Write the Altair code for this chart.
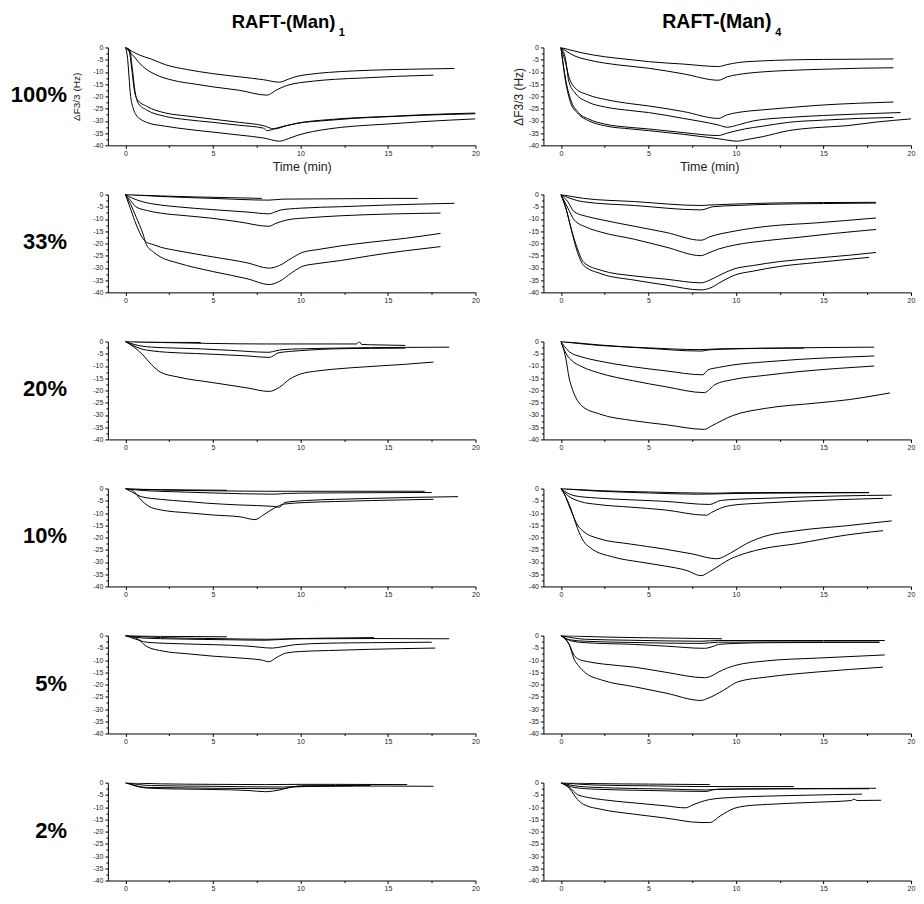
import altair as alt
import pandas as pd

ROW_LABELS = ["100%", "33%", "20%", "10%", "5%", "2%"]
COL_SUBS = ["1", "4"]
X_TICKS = [0, 2.5, 5, 7.5, 10, 12.5, 15, 17.5, 20]
Y_TICKS = [0, -2.5, -5, -7.5, -10, -12.5, -15, -17.5, -20, -22.5, -25, -27.5,
           -30, -32.5, -35, -37.5, -40]

# ---- RAFT-(Man)1 ----
m1_100 = {
    "a": ([0, 0.8, 1.5, 2.3, 3.5, 5, 6.5, 7.9, 8.8, 9.3, 9.8, 10.5, 11.6, 13, 15, 17, 18.8],
          [0, -3.1, -4.8, -7.1, -9, -10.7, -12, -13.2, -14.2, -13, -11.8, -11, -10.2, -9.6, -9.1, -8.8, -8.6]),
    "b": ([0, 0.4, 1, 1.7, 2.7, 4, 5, 6.5, 8.1, 8.6, 9.2, 10.7, 12, 13.5, 15.5, 17.6],
          [0, -3, -7.8, -11, -13.4, -15, -16.1, -17.5, -19.5, -17.5, -15.6, -13.8, -13, -12.5, -11.8, -11.3]),
    "c": ([0, 0.2, 0.35, 0.5, 0.7, 1.2, 2.3, 3.5, 5, 6.5, 7.9, 8.5, 9.2, 9.8, 11.6, 13, 15, 17, 20],
          [0, -1, -8, -17, -21.5, -24, -26.8, -28, -29.3, -30.6, -32, -33.3, -32, -31, -29.5, -28.8, -28.2, -27.5, -26.8]),
    "d": ([0, 0.25, 0.4, 0.55, 0.75, 1.2, 2.3, 3.5, 5, 6.5, 7.9, 8.1, 8.6, 9.8, 11.6, 13, 15, 17, 20],
          [0, -1, -9, -18, -23, -25.5, -28.2, -29.5, -30.6, -31.8, -33, -34, -33, -31, -29.8, -29, -28.3, -27.7, -27.1]),
    "e": ([0, 0.1, 0.3, 0.45, 0.6, 0.9, 1.2, 2.3, 3.5, 5, 6.5, 7.9, 8.8, 9.3, 9.8, 11.6, 13, 15, 17, 20],
          [0, -3, -20, -25, -27.5, -29.5, -30.6, -32.2, -33.4, -34.6, -35.8, -37, -38.3, -37.3, -36, -33.3, -32.2, -31.3, -30.3, -29.2]),
}
m1_33 = {
    "a1": ([0, 2, 4, 6, 7.8], [0, -0.6, -1, -1.3, -1.6]),
    "a2": ([0, 2, 5, 8.2, 9, 11, 13, 15, 16.7], [0, -0.8, -1.6, -2.3, -1.9, -1.8, -1.7, -1.6, -1.6]),
    "b": ([0, 0.4, 1, 2, 2.9, 5, 7, 8.2, 8.6, 8.9, 10, 12.3, 15, 17, 18.8],
          [0, -1.5, -3, -4.3, -5, -6.2, -7.2, -7.9, -7, -6.3, -5.6, -5, -4.3, -3.9, -3.6]),
    "c": ([0, 0.3, 0.6, 1.2, 2, 3.5, 4.8, 6.5, 8.2, 8.6, 9.3, 10.5, 12.3, 15, 18],
          [0, -2.5, -5, -6.5, -7.6, -8.7, -9.6, -11.2, -13, -11.8, -10.3, -9.5, -8.7, -8, -7.6]),
    "d": ([0, 0.3, 0.6, 1, 1.2, 1.6, 2, 3, 5, 7, 8.2, 8.8, 9.5, 10.1, 11, 12.3, 14, 16, 18],
          [0, -6, -12, -18, -19.5, -20.5, -21.5, -23, -25.5, -28, -30.1, -29, -26, -23.7, -22.5, -21, -19.5, -17.9, -15.9]),
    "e": ([0, 0.3, 0.6, 1, 1.2, 1.6, 2, 3, 5, 7, 8.2, 8.8, 9.5, 10.1, 11, 12.3, 14, 16, 18],
          [0, -4, -9, -16, -20.5, -23.5, -25.5, -28, -31.5, -34.5, -36.8, -35.5, -32, -29.4, -28.2, -27, -25, -23, -21.3]),
}
m1_20 = {
    "a1": ([0, 1, 2.5, 4.3], [0, -0.2, -0.3, -0.4]),
    "a2": ([0, 2, 5, 8, 10, 12, 13.2, 13.35, 13.5, 14.5, 16], [0, -0.4, -0.8, -1, -1, -1, -1, 0, -1.2, -1.4, -1.6]),
    "b": ([0, 0.5, 1.5, 3, 4.3, 6, 8.2, 8.6, 9, 10, 12, 14, 16, 18.5],
          [0, -1.2, -2.3, -2.7, -3, -3.6, -4.4, -3.8, -3.3, -3, -2.7, -2.5, -2.4, -2.3]),
    "c": ([0, 0.4, 0.9, 1.5, 2.4, 4, 5.3, 7, 8.2, 8.5, 8.7, 9.5, 10.5, 11.9, 14, 16],
          [0, -1.5, -3, -3.8, -4.4, -4.9, -5.3, -5.9, -6.5, -5.6, -4.7, -4, -3.5, -3, -2.8, -2.7]),
    "d": ([0, 0.5, 1, 1.5, 2, 3, 5, 7, 8.2, 8.8, 9.4, 10, 11, 11.9, 13.8, 16, 17.6],
          [0, -2.3, -5.5, -9.5, -12.5, -14.5, -16.8, -19, -20.4, -18.7, -15.3, -13.3, -12, -11.3, -10.3, -9.3, -8.4]),
}
m1_10 = {
    "a1": ([0, 1, 3, 5.8], [0, -0.3, -0.5, -0.7]),
    "a2": ([0, 2, 5, 8, 10, 13, 17.1], [0, -0.6, -0.9, -1.1, -1.1, -1.1, -1.1]),
    "b": ([0, 1, 2.8, 5, 8.5, 9.2, 11, 14, 17.5], [0, -0.8, -1.3, -1.8, -2.3, -2, -1.8, -1.7, -1.6]),
    "c": ([0, 0.4, 0.9, 2, 3.5, 4.7, 6.5, 8.5, 8.8, 9.1, 10.3, 12, 14.1, 16.5, 19],
          [0, -1.5, -3.3, -4.4, -5.3, -6, -6.7, -7.3, -7.6, -5.7, -4.9, -4.4, -4, -3.6, -3.3]),
    "d": ([0, 0.4, 0.9, 1.3, 2, 3.7, 5, 6.6, 7.4, 7.9, 8.5, 9.1, 10.3, 12, 14.1, 16, 17.6],
          [0, -0.7, -4.7, -7.1, -8.7, -10, -10.8, -11.6, -12.7, -10.7, -8, -6.3, -5.7, -5.3, -4.9, -4.6, -4.4]),
}
m1_5 = {
    "a1": ([0, 2, 4, 5.8], [0, -0.3, -0.4, -0.5]),
    "a2": ([0, 2, 5, 8, 10, 14, 18.5], [0, -0.8, -1.2, -1.5, -1.3, -1.2, -1.3]),
    "b": ([0, 1, 3, 5.9, 8, 9.5, 12, 14.2], [0, -1, -1.4, -1.7, -1.9, -1.3, -1, -0.8]),
    "c": ([0, 0.6, 1.2, 2.5, 5, 7, 8.4, 9, 9.7, 11.6, 14, 17.5],
          [0, -1.5, -2.7, -3.2, -3.7, -4.3, -5.1, -4.5, -3.7, -3.1, -2.9, -2.7]),
    "d": ([0, 0.7, 1.2, 2.2, 3.5, 5, 7, 7.8, 8.2, 8.6, 9.2, 10, 11.6, 14, 17.7],
          [0, -1.3, -4.4, -6.4, -7.4, -8.4, -9.4, -10, -10.7, -9.1, -7.1, -6.5, -6.1, -5.6, -5.1]),
}
m1_2 = {
    "a": ([0, 2, 5, 8, 10, 12, 16.1], [0, -0.5, -0.7, -0.8, -0.7, -0.7, -0.8]),
    "b": ([0, 1.5, 5, 9, 10, 12, 15, 17.6], [0, -1.2, -1.5, -1.8, -1.5, -1.4, -1.4, -1.5]),
    "c": ([0, 1.3, 3, 5, 7, 9, 9.5, 10, 12, 14], [0, -2, -2.1, -2.3, -2.4, -2.5, -1.8, -1.3, -1.2, -1.2]),
    "d": ([0, 1.2, 3, 5, 7, 8, 8.8, 9.5, 11, 13], [0, -2.2, -2.6, -2.8, -3.2, -3.7, -3, -1.8, -1.5, -1.3]),
}

# ---- RAFT-(Man)4 ----
m4_100 = {
    "a": ([0, 0.5, 1.2, 2.5, 4, 5, 7, 9, 9.5, 10.1, 11.5, 13, 15, 17, 19],
          [0, -1, -2.2, -3.8, -5, -5.8, -6.8, -7.8, -7, -6.2, -5.5, -5.1, -4.9, -4.8, -4.7]),
    "b": ([0, 0.3, 0.8, 1.5, 2.5, 4, 5, 7, 9, 9.5, 10.1, 11.5, 13, 15, 17, 19],
          [0, -1.5, -3.5, -5, -6.4, -7.7, -8.5, -10.8, -13.4, -12, -11.1, -10, -9.4, -8.9, -8.5, -8.3]),
    "c": ([0, 0.27, 0.45, 0.8, 1.6, 2.5, 4, 5, 7, 9, 9.5, 10.1, 11.5, 13, 15, 17, 19],
          [0, -6.4, -11.8, -16.5, -19.5, -21.2, -23, -23.9, -26.2, -29, -27.5, -26.6, -25.5, -24.6, -23.5, -22.8, -22.3]),
    "d": ([0, 0.27, 0.45, 0.8, 1.6, 2.5, 4, 5, 7, 9, 9.5, 10.2, 11, 13, 15, 17, 19.4],
          [0, -5, -13.8, -18.5, -22.5, -24.3, -25.8, -26.6, -29, -31.7, -32.6, -31.5, -30, -28.6, -27.8, -27.2, -26.6]),
    "e": ([0, 0.27, 0.55, 1, 1.6, 2.5, 4, 5, 7, 9, 9.5, 10.5, 11.5, 13, 15, 17, 19],
          [0, -13, -21.2, -26.6, -29.3, -31.3, -32.7, -33.3, -34.8, -36, -35, -33.3, -32.2, -30.6, -29.7, -29, -28.6]),
    "f": ([0, 0.27, 0.55, 1, 1.6, 2.5, 4, 5, 7, 9, 10.1, 10.5, 11.5, 13, 14.5, 16.3, 18, 20],
          [0, -14, -22.5, -27.2, -30, -32, -33.3, -34, -35.5, -37.3, -38.3, -37.8, -36.5, -34, -32.8, -32, -30.5, -29.2]),
}
m4_33 = {
    "a1": ([0, 1.3, 4.2, 8, 8.5, 10, 12, 15, 18], [0, -1.6, -2.9, -4.5, -4.3, -3.9, -3.5, -3.3, -3.2]),
    "a2": ([0, 0.5, 1.3, 4.2, 8, 8.7, 10, 12, 15, 18], [0, -1.5, -3, -4.5, -6.3, -5, -4.5, -4, -3.7, -3.5]),
    "b": ([0, 0.4, 0.75, 1.5, 2.3, 4.2, 6, 8, 8.5, 9.9, 11.8, 14.6, 18],
          [0, -3, -7, -9, -10.3, -13, -15.5, -18.7, -17.3, -15, -13, -11.6, -9.6]),
    "c": ([0, 0.4, 0.75, 1.5, 2.3, 4.2, 6, 8, 8.4, 9, 9.9, 11.8, 13.6, 15.5, 18],
          [0, -5.6, -10.3, -13.5, -15.4, -18.3, -21.5, -25, -24, -22.3, -20.7, -18.8, -17.5, -16, -14.3]),
    "d": ([0, 0.3, 0.6, 0.95, 1.3, 2.3, 4.2, 6, 8, 8.5, 9.2, 9.9, 11, 12.5, 14.6, 16.5, 18],
          [0, -6, -14.3, -22.3, -27.7, -31, -33.3, -34.6, -36.1, -35, -32.5, -30.4, -29, -27.4, -26, -24.8, -23.7]),
    "e": ([0, 0.3, 0.6, 0.95, 1.3, 2.3, 4.2, 6, 8, 8.5, 9.2, 9.9, 11, 12.5, 14.6, 16, 17.6],
          [0, -6, -14.6, -23.7, -29, -32.4, -35, -37, -39, -38.3, -35.5, -33, -31.3, -29.4, -27.8, -26.8, -25.7]),
}
m4_20 = {
    "a1": ([0, 2.2, 5, 7.9, 9, 11, 13.9], [0, -1.6, -2.6, -3.3, -3, -2.8, -2.7]),
    "a2": ([0, 2.2, 5, 8, 8.5, 10, 13, 16, 17.9], [0, -1.4, -2.8, -3.9, -3.4, -3, -2.6, -2.4, -2.3]),
    "b": ([0, 0.2, 0.5, 1.2, 2.2, 4.1, 6, 8.1, 8.4, 9, 9.8, 11.7, 13.6, 15.8, 17.9],
          [0, -2, -4.3, -6.3, -8, -10.3, -12, -13.6, -11.6, -10.6, -9.6, -8.3, -7.3, -6.5, -5.9]),
    "c": ([0, 0.3, 0.66, 1.2, 2.2, 4.1, 6, 8.2, 8.5, 8.8, 9.8, 11.7, 13.6, 15.8, 17.9],
          [0, -5, -8, -10.3, -12.9, -16, -18.5, -20.9, -19.5, -17.6, -15.6, -13.8, -12.3, -11, -10]),
    "d": ([0, 0.28, 0.47, 0.66, 0.85, 1.2, 2.2, 4.1, 6, 8.2, 8.6, 9.8, 11.7, 14.5, 16.5, 18, 18.8],
          [0, -6.9, -14.9, -19.6, -22.9, -26.3, -29.6, -32.3, -34, -35.9, -34.5, -30.3, -27.3, -25.2, -23.7, -22, -21]),
}
m4_10 = {
    "a1": ([0, 2, 5, 8.7, 10, 13, 17.6], [0, -0.8, -1.4, -1.9, -1.7, -1.6, -1.6]),
    "a2": ([0, 2, 5, 7.8, 10, 14, 17.6], [0, -1, -1.8, -2.3, -2, -1.8, -1.7]),
    "b": ([0, 0.3, 0.75, 2.1, 4, 5.9, 8.5, 9.1, 10, 11.6, 14, 16, 18.9],
          [0, -1.5, -2.9, -3.9, -4.6, -5.2, -6.5, -4.9, -4.4, -4, -3.4, -3, -2.7]),
    "c": ([0, 0.4, 1.1, 2.1, 4, 5.9, 8.3, 8.6, 8.9, 9.7, 11.6, 13.5, 16, 18.4],
          [0, -2.9, -5.3, -6.5, -7.6, -8.7, -10.9, -9.8, -8.7, -6.9, -5.9, -5.2, -4.5, -4]),
    "d": ([0, 0.2, 0.57, 0.95, 1.3, 2.1, 4, 5.9, 7.5, 8.9, 9.7, 10.6, 11.6, 13.5, 16.3, 18.9],
          [0, -2.3, -8.9, -14.9, -17.6, -20.3, -22.7, -24.7, -26.7, -28.7, -26.3, -22.5, -19.6, -17.2, -15.2, -13.2]),
    "e": ([0, 0.2, 0.57, 0.95, 1.3, 1.7, 3, 4.5, 5.9, 7.2, 8, 8.5, 9.7, 10.6, 11.6, 13.5, 16.3, 18.4],
          [0, -2.3, -8.3, -16.3, -21.6, -24.3, -28, -30, -31.6, -33.5, -35.6, -33.9, -28.7, -26.3, -24.5, -22.5, -19, -17.2]),
}
m4_5 = {
    "a1": ([0, 2, 5, 9.2], [0, -0.5, -0.9, -1.3]),
    "a2": ([0, 1.4, 4, 8, 9, 12, 15, 18.5], [0, -1.5, -1.9, -2.3, -2, -2, -2, -2]),
    "b": ([0, 0.5, 1.4, 4, 8, 9, 12, 15, 18.2], [0, -1.7, -2.3, -2.8, -3.2, -2.7, -2.6, -2.6, -2.7]),
    "c": ([0, 0.66, 1.4, 4.2, 6, 8.2, 8.7, 9, 10, 11.8, 15, 18.2],
          [0, -2.3, -2.9, -3.6, -4.3, -5.2, -4.4, -3.6, -3.2, -2.9, -2.8, -2.7]),
    "d": ([0, 0.47, 0.75, 1, 1.5, 2.4, 4.2, 6, 8.2, 8.6, 9, 9.9, 11.8, 14.6, 18.5],
          [0, -3.6, -8, -9.6, -10.6, -11.6, -12.9, -15, -17.2, -16.5, -14.9, -12.3, -10.3, -9.2, -7.9]),
    "e": ([0, 0.47, 0.75, 1, 1.4, 2.4, 4.2, 6, 8, 8.4, 9.3, 10.1, 11.8, 14.6, 18.4],
          [0, -3.6, -9.6, -12.3, -15.2, -18.3, -20.9, -23.5, -26.5, -25.6, -22.3, -18.9, -16.9, -14.9, -12.9]),
}
m4_2 = {
    "a1": ([0, 2, 5, 8.5], [0, -0.4, -0.6, -0.8]),
    "a2": ([0, 2, 5, 8, 10, 13.3], [0, -1, -1.3, -1.6, -1.6, -1.6]),
    "b": ([0, 1, 3, 6, 8.3, 9, 12, 15, 18], [0, -1.5, -2.2, -2.6, -3, -2.7, -2.5, -2.4, -2.3]),
    "c": ([0, 0.8, 2, 5, 8.3, 8.8, 10, 13, 17.6], [0, -2, -2.7, -3.2, -3.6, -2.8, -2.6, -2.5, -2.5]),
    "d": ([0, 0.5, 0.95, 1.5, 2.3, 4.2, 6, 7.1, 7.6, 8.5, 9.9, 11.8, 13.6, 15.5, 17.2],
          [0, -2, -4.9, -6, -6.9, -8.3, -9.5, -10.3, -8.9, -6.9, -6, -5.5, -5.2, -4.9, -4.7]),
    "e": ([0, 0.5, 0.95, 1.3, 2.3, 4.2, 6, 8, 8.5, 9.1, 9.9, 10.5, 11.8, 14.6, 16.6, 16.75, 16.9, 18.3],
          [0, -2.5, -6.9, -8.9, -10.9, -12.9, -14.5, -16.3, -16.3, -13.6, -10.5, -9.6, -8.9, -8, -7.3, -6.7, -7.3, -7.2]),
}

PANELS = [
    [m1_100, m4_100],
    [m1_33, m4_33],
    [m1_20, m4_20],
    [m1_10, m4_10],
    [m1_5, m4_5],
    [m1_2, m4_2],
]

W, H = 368, 98
FONT = "Liberation Sans"
IS_MAJOR = "datum.value % 5 == 0"
LABEL_EXPR = "datum.value % 5 == 0 ? '' + datum.value : ''"
TICK_SIZE = {"condition": {"test": IS_MAJOR, "value": 3}, "value": 2}

# per-column placement of the first-row titles
TITLE_X = [124, 119]
SUB_X = [231, 232]
TITLE_SIZE = [18.5, 19.5]
YTITLE_SIZE = [10, 12]
YTITLE_PAD = [11, 3]
XTITLE_X = [194, 166]


def make_panel(curves, r, c):
    recs = []
    for name, (ts, ys) in curves.items():
        assert len(ts) == len(ys), (r, c, name)
        for i, (t, y) in enumerate(zip(ts, ys)):
            recs.append({"curve": name, "i": i, "t": t, "y": y})
    df = pd.DataFrame(recs)
    first = r == 0

    xkw = dict(values=X_TICKS, labelExpr=LABEL_EXPR, tickSize=TICK_SIZE,
               labelFlush=False, labelOverlap=False, labelPadding=1,
               labelFontSize=7, labelColor="#222")
    ykw = dict(values=Y_TICKS, labelExpr=LABEL_EXPR, tickSize=TICK_SIZE,
               labelFlush=False, labelOverlap=False, labelPadding=2,
               labelFontSize=7, labelColor="#222")
    if first:
        xkw.update(title="Time (min)", titleFontSize=12.5, titleFontWeight="normal",
                   titlePadding=4, titleX=XTITLE_X[c])
        ykw.update(title="\u0394F3/3 (Hz)", titleFontSize=YTITLE_SIZE[c],
                   titleFontWeight="normal", titlePadding=YTITLE_PAD[c])
    else:
        xkw.update(title=None)
        ykw.update(title=None)

    lines = alt.Chart(df).mark_line(
        color="black", strokeWidth=1, interpolate="monotone", clip=True
    ).encode(
        x=alt.X("t:Q", scale=alt.Scale(domain=[-1, 20], nice=False, zero=False),
                axis=alt.Axis(**xkw)),
        y=alt.Y("y:Q", scale=alt.Scale(domain=[-40, 0], nice=False),
                axis=alt.Axis(**ykw)),
        detail="curve:N",
        order="i:Q",
    )
    layers = [lines]

    if c == 0:
        lab = alt.Chart(pd.DataFrame({"label": [ROW_LABELS[r]]})).mark_text(
            align="right", baseline="middle", font=FONT, fontSize=22,
            fontWeight="bold", color="black"
        ).encode(x=alt.value(-41), y=alt.value(H / 2 - 1), text="label:N")
        layers.append(lab)

    if first:
        main = alt.Chart(pd.DataFrame({"txt": ["RAFT-(Man)"]})).mark_text(
            align="left", baseline="alphabetic", font=FONT, fontSize=TITLE_SIZE[c],
            fontWeight="bold", color="black"
        ).encode(x=alt.value(TITLE_X[c]), y=alt.value(-19), text="txt:N")
        sub = alt.Chart(pd.DataFrame({"txt": [COL_SUBS[c]]})).mark_text(
            align="left", baseline="alphabetic", font=FONT, fontSize=11,
            fontWeight="bold", color="black"
        ).encode(x=alt.value(SUB_X[c]), y=alt.value(-11), text="txt:N")
        layers += [main, sub]

    return alt.layer(*layers).properties(width=W, height=H)


charts = [make_panel(PANELS[r][c], r, c) for r in range(6) for c in range(2)]

chart = alt.concat(
    *charts, columns=2, spacing={"row": 49.2, "column": 68}, bounds="flush"
).properties(
    padding={"left": 2, "top": 3, "right": 0, "bottom": 0}
).configure_view(
    stroke="transparent"
).configure_axis(
    grid=False, domainColor="black", domainWidth=1, tickColor="black",
    tickWidth=1, labelColor="#222", titleColor="#222",
    labelFont=FONT, titleFont=FONT
)

chart.save("out.html", embed_options={"renderer": "svg", "actions": False})
